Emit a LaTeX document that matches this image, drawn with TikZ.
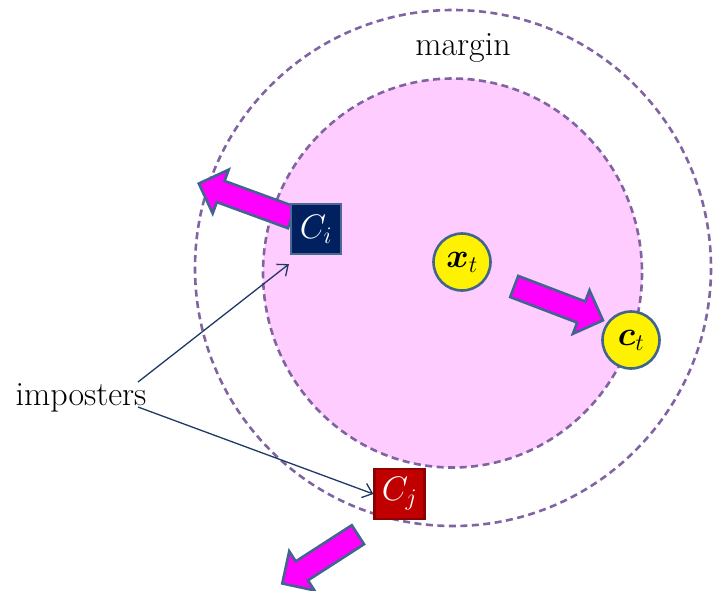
\RequirePackage{fix-cm}
\documentclass[tikz,border=0pt]{standalone}
\usepackage{amsmath,bm}
\usetikzlibrary{shapes.arrows,arrows.meta,calc}
\definecolor{dashpurple}{HTML}{8064A2}
\definecolor{pinkfill}{HTML}{FFCCFF}
\definecolor{navybox}{HTML}{002060}
\definecolor{navyedge}{HTML}{4A6A94}
\definecolor{redbox}{HTML}{C00000}
\definecolor{rededge}{HTML}{8B0000}
\definecolor{slate}{HTML}{41658F}
\definecolor{magentaarr}{HTML}{FF00FF}
\definecolor{pointer}{HTML}{1F3864}
\tikzset{
  marginring/.style={draw=dashpurple, line width=2.6pt, dash pattern=on 7pt off 4.5pt},
  blockarr/.style={single arrow, draw=slate, fill=magentaarr, line width=2.6pt,
    inner sep=10pt, single arrow head extend=12pt, single arrow tip angle=90, anchor=tail},
  boxnode/.style={rectangle, minimum size=50pt, inner sep=0pt, line width=2.2pt,
    text=white, font=\fontsize{34}{36}\selectfont},
  dotnode/.style={circle, draw=slate, fill=yellow, minimum size=57pt, inner sep=0pt,
    line width=2.6pt, font=\fontsize{34}{36}\selectfont},
  bigtext/.style={inner sep=0pt, font=\fontsize{34}{38}\selectfont},
  pointerline/.style={draw=pointer, line width=1.3pt, -{Straight Barb[length=9pt,width=15pt,line width=1.3pt]}}
}
\begin{document}
\begin{tikzpicture}[x=1pt,y=-1pt]
\useasboundingbox (0,0) rectangle (714,590);
% rings
\draw[marginring] (453,268) circle [radius=258];
\draw[marginring, fill=pinkfill] (452.5,273) ellipse [x radius=189.5, y radius=194.5];
% block arrows
\node[blockarr, minimum height=99pt, rotate=159.9] (a1) at (293,218) {};
\node[blockarr, minimum height=95pt, rotate=-20.9] (a2) at (513,286) {};
\node[blockarr, minimum height=90pt, rotate=-147.2] (a3) at (359,534) {};
% nodes
\node[boxnode, fill=navybox, draw=navyedge] (ci) at (316,229) {$C_i$};
\node[boxnode, fill=redbox, draw=rededge] (cj) at (399.5,494) {$C_j$};
\node[dotnode] (xt) at (462,262) {$\bm{x}_t$};
\node[dotnode] (ct) at (631,340) {$\bm{c}_t$};
\node[bigtext, anchor=base] (mg) at (463,55) {margin};
\node[bigtext, anchor=base] (imp) at (81,405) {imposters};
% pointers
\coordinate (s1) at (138,382);
\coordinate (s2) at (138,407);
\draw[pointerline] (s1) -- ($(ci.south west)+(-1,9)$);
\draw[pointerline] (s2) -- (cj.west);
\end{tikzpicture}
\end{document}
